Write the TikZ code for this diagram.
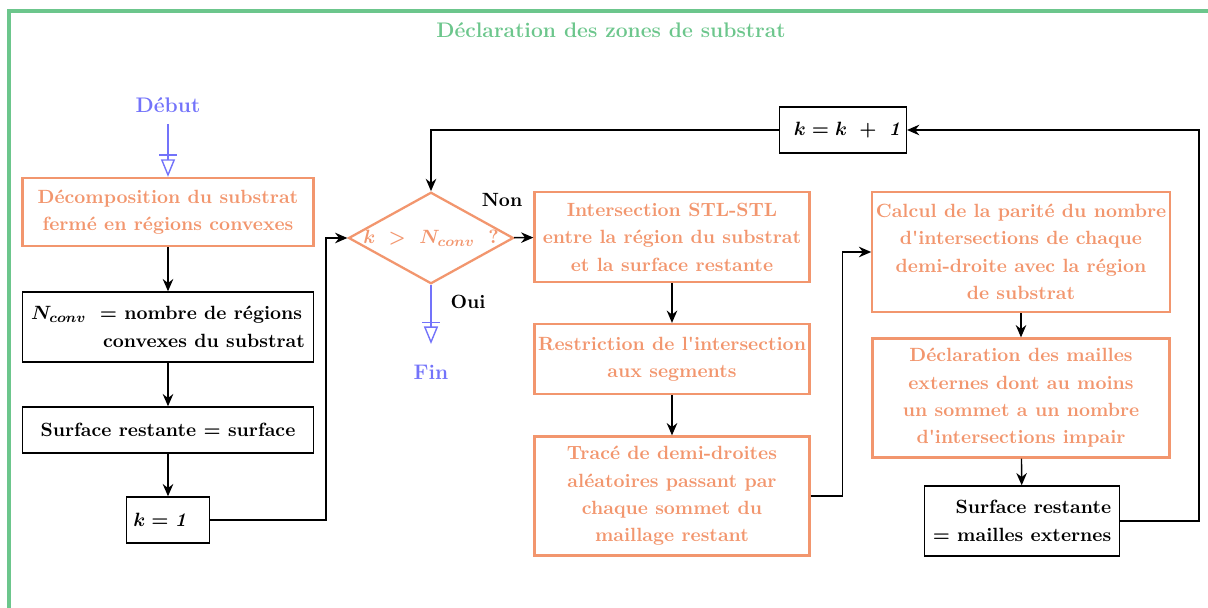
\documentclass[tikz,border=0pt]{standalone}
\usetikzlibrary{arrows.meta,shapes.geometric}
\definecolor{vert}{RGB}{108,198,140}
\definecolor{saumon}{RGB}{242,150,110}
\definecolor{bleu}{RGB}{115,115,250}

\begin{document}
\begin{tikzpicture}[x=0.02cm,y=-0.02cm,font=\bfseries\boldmath\fontsize{10.9}{15.6}\selectfont,
  etape/.style={draw=saumon,line width=1.3pt,text=saumon,align=center,inner sep=2pt},
  boite/.style={draw,line width=0.8pt,align=center,inner sep=2pt},
  decision/.style={diamond,draw=saumon,line width=1.3pt,text=saumon,shape aspect=1.8,inner sep=0pt,minimum width=3.3cm,minimum height=1.82cm},
  grand/.style={font=\bfseries\fontsize{12}{14}\selectfont},
  fl/.style={-{Stealth[length=7pt,width=6pt]},line width=0.8pt},
  bout/.style={bleu,line width=0.8pt,-{Bar[width=10pt,sep=2pt]Triangle[open,length=10pt,width=8pt]}}]
\useasboundingbox (0,0) rectangle (1208,608);
\draw[vert,line width=2.4pt] (9,11) rectangle (1240,650);
\node[grand,text=vert] (titre) at (611,30) {Déclaration des zones de substrat};
% colonne de gauche
\node[grand,text=bleu] (debut) at (168,105) {Début};
\node[etape,minimum width=5.82cm,minimum height=1.36cm] (decomp) at (168,212) {Décomposition du substrat\\fermé en régions convexes};
\node[boite,align=left,minimum width=5.82cm,minimum height=1.4cm] (nconv) at (168,327) {$N_{conv}\ =$ nombre de régions\\\hspace*{41pt}convexes du substrat};
\node[boite,minimum width=5.82cm,minimum height=0.92cm] (surf) at (168,430) {Surface restante = surface};
\node[boite,minimum width=1.66cm,minimum height=0.92cm] (kun) at (168,520) {$k = \mathit{1}$\hspace{8pt}};
% test
\node[decision] (test) at (431,238) {$k\ >\ N_{conv}\;\ ?$};
\node (non) at (502,200) {Non};
\node (oui) at (468,302) {Oui};
\coordinate (bas) at (431,344);
\node[grand,text=bleu] (fin) at (431,372) {Fin};
\node[boite,minimum width=2.48cm,minimum height=0.92cm] (kplus) at (843,130) {\hspace{6pt}$k = k\ +\ \mathit{1}$};
% colonne du milieu
\node[etape,minimum width=5.5cm,minimum height=1.8cm] (inter) at (672,237) {Intersection STL-STL\\entre la région du substrat\\et la surface restante};
\node[etape,minimum width=5.5cm,minimum height=1.4cm] (restr) at (672,359) {Restriction de l\textquotesingle intersection\\aux segments};
\node[etape,minimum width=5.5cm,minimum height=2.38cm] (trace) at (672,496) {Tracé de demi-droites\\aléatoires passant par\\chaque sommet du\\maillage restant};
% colonne de droite
\node[etape,minimum width=5.94cm,minimum height=2.4cm] (parite) at (1021,252) {Calcul de la parité du nombre\\d\textquotesingle intersections de chaque\\demi-droite avec la région\\de substrat};
\node[etape,minimum width=5.94cm,minimum height=2.38cm] (maill) at (1021,398) {Déclaration des mailles\\externes dont au moins\\un sommet a un nombre\\d\textquotesingle intersections impair};
\node[boite,align=right,minimum width=3.9cm,minimum height=1.4cm] (surf2) at (1022,521) {Surface restante\\= mailles externes};
% liaisons
\draw[bout,shorten <=3pt] (debut) -- (decomp);
\draw[bout] (test) -- (bas);
\foreach \a/\b in {decomp/nconv,nconv/surf,surf/kun,inter/restr,restr/trace,parite/maill,maill/surf2} {\draw[fl] (\a)--(\b);}
\draw[fl] (kun.east) -- ++(116,0) |- (test.west);
\draw[fl] (test) -- (inter);
\draw[fl] (kplus.west) -| (test.north);
\draw[fl] (trace.east) -- ++(32,0) |- (parite.west);
\draw[fl] (surf2.east) -- ++(79,0) |- (kplus.east);
\end{tikzpicture}
\end{document}
